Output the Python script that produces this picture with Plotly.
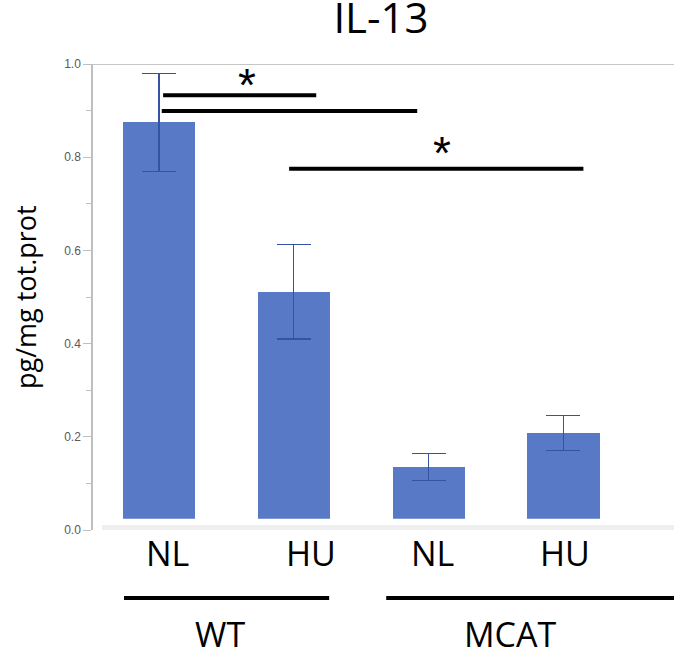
import plotly.graph_objects as go

# ---- data ----
categories = ["NL", "HU", "NL", "HU"]
groups = ["WT", "MCAT"]
values = [0.875, 0.511, 0.135, 0.208]
errors = [0.105, 0.101, 0.029, 0.037]
y_ticks = [0.0, 0.2, 0.4, 0.6, 0.8, 1.0]
y_tick_labels = ["0.0", "0.2", "0.4", "0.6", "0.8", "1.0"]
title_text = "IL-13"
y_title = "pg/mg tot.prot"
# significance brackets: (x_start, x_end, y_level) in data units
sig_lines = [(0.03, 1.166, 0.933), (0.02, 1.915, 0.899), (0.965, 3.148, 0.775)]
sig_stars = [(0.653, 0.955), (2.10, 0.81)]

xpos = list(range(len(categories)))
BAR_COLOR = "#5779C6"
ERR_COLOR = "#3553A3"
FONT = "Open Sans"

fig = go.Figure()
fig.add_trace(go.Bar(
    x=xpos, y=values, width=0.535,
    marker=dict(color=BAR_COLOR, line=dict(width=0)),
    error_y=dict(type="data", array=errors, visible=True,
                 color=ERR_COLOR, thickness=1.2, width=17),
    showlegend=False, hoverinfo="skip",
))

shapes = []
# white gap and light gray floor band at the bottom
shapes.append(dict(type="rect", xref="x", yref="y", x0=-0.49, x1=3.9,
                   y0=0.0107, y1=0.024, fillcolor="white", line=dict(width=0), layer="above"))
shapes.append(dict(type="rect", xref="x", yref="y", x0=-0.423, x1=3.9,
                   y0=-0.0043, y1=0.0107, fillcolor="#EFEFEF", line=dict(width=0), layer="above"))
# top border line
shapes.append(dict(type="line", xref="paper", yref="y", x0=0, x1=1, y0=1.0, y1=1.0,
                   line=dict(color="#C6C6C6", width=2)))
for x0, x1, y in sig_lines:
    shapes.append(dict(type="line", xref="x", yref="y", x0=x0, x1=x1, y0=y, y1=y,
                       line=dict(color="black", width=4)))
# group underline bars (below axis)
group_spans = [(-0.26, 1.262), (1.685, 3.9)]
for x0, x1 in group_spans:
    shapes.append(dict(type="line", xref="x", yref="paper", x0=x0, x1=x1, y0=-0.146, y1=-0.146,
                       line=dict(color="black", width=4)))

annotations = []
for xs, ys in sig_stars:
    annotations.append(dict(x=xs, y=ys, xref="x", yref="y", text="*", showarrow=False,
                            font=dict(family="Liberation Sans", size=46, color="black"),
                            xanchor="center", yanchor="middle"))
label_x = [0.06, 1.13, 2.03, 3.01]
for lx, lab in zip(label_x, categories):
    annotations.append(dict(x=lx, y=0.004, xref="x", yref="paper", text=lab, showarrow=False,
                            font=dict(family=FONT, size=34, color="black"),
                            xanchor="center", yanchor="top"))
group_x = [0.453, 2.606]
for gx, g in zip(group_x, groups):
    annotations.append(dict(x=gx, y=-0.169, xref="x", yref="paper", text=g, showarrow=False,
                            font=dict(family=FONT, size=34, color="black"),
                            xanchor="center", yanchor="top"))
annotations.append(dict(x=-0.117, y=0.5, xref="paper", yref="paper", text=y_title, showarrow=False,
                        textangle=-90, font=dict(family=FONT, size=27, color="black"),
                        xanchor="center", yanchor="middle"))

fig.update_layout(
    width=674, height=655,
    margin=dict(l=93, r=0, t=64, b=125),
    paper_bgcolor="white", plot_bgcolor="white",
    title=dict(text=title_text, x=381 / 674, xanchor="center", y=1 - 18 / 655, yanchor="middle",
               font=dict(family=FONT, size=42, color="black")),
    xaxis=dict(range=[-0.49, 3.82], showticklabels=False, showgrid=False, zeroline=False,
               showline=False, ticks=""),
    yaxis=dict(range=[0, 1.0], tickvals=y_ticks, ticktext=y_tick_labels, showgrid=False,
               zeroline=False, showline=True, linecolor="#BFBFBF", linewidth=1.5,
               ticks="outside", ticklen=8, tickcolor="#BFBFBF", tickwidth=1,
               tickfont=dict(family="Liberation Sans", size=12, color="#595959"),
               minor=dict(dtick=0.1, ticks="outside", ticklen=5, tickcolor="#BFBFBF", tickwidth=1)),
    shapes=shapes,
    annotations=annotations,
    bargap=0,
)

fig.write_html("out.html", config={"displayModeBar": False},
               post_script="document.body.style.margin='0';")
